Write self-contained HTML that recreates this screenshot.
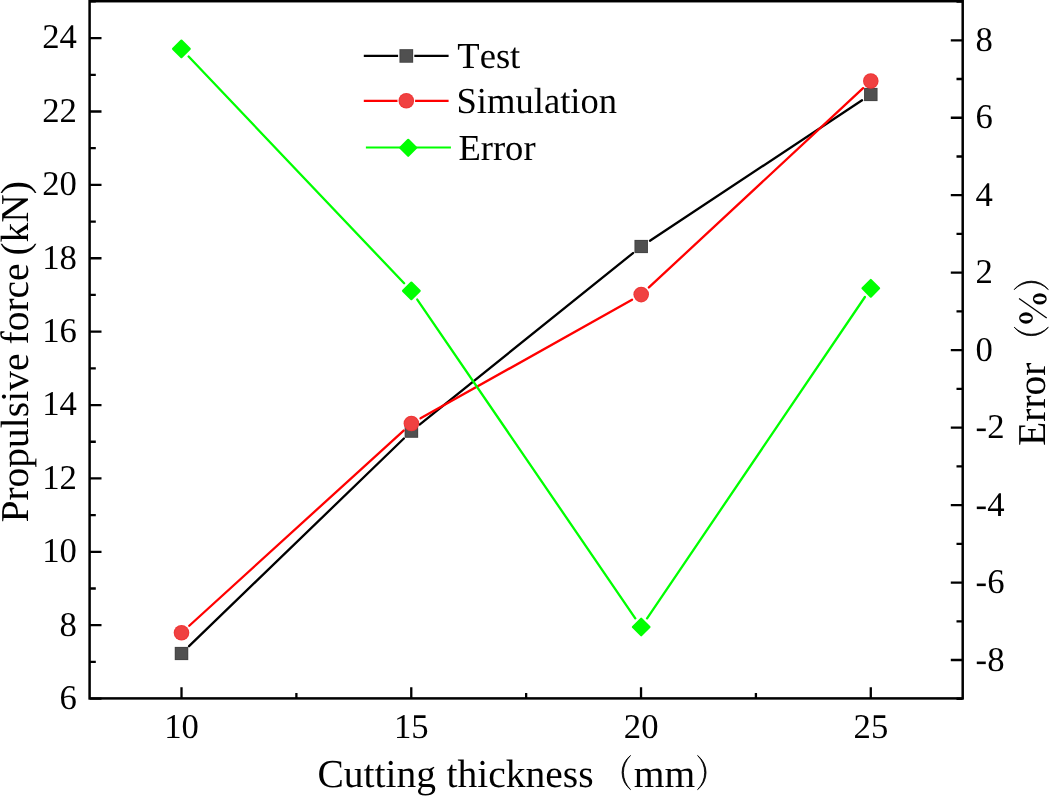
<!DOCTYPE html>
<html><head><meta charset="utf-8"><title>chart</title>
<style>html,body{margin:0;padding:0;background:#fff;overflow:hidden}svg{display:block;text-rendering:geometricPrecision;font-kerning:none;will-change:transform;transform:translateZ(0)}</style></head>
<body>
<svg width="1049" height="796" viewBox="0 0 1049 796">
<path d="M189.05 646.2L403.85 438.5M419.58 424.62L633.02 253.08M649.96 240.7L862.04 100.3" stroke="#000" stroke-width="2.3" fill="none" stroke-linecap="round"/>
<rect x="174.75" y="646.9" width="13.5" height="13.2" fill="#454545"/><rect x="175.75" y="647.9" width="11.5" height="11.2" fill="#505050"/>
<rect x="404.65" y="424.6" width="13.5" height="13.2" fill="#454545"/><rect x="405.65" y="425.6" width="11.5" height="11.2" fill="#505050"/>
<rect x="634.45" y="239.9" width="13.5" height="13.2" fill="#454545"/><rect x="635.45" y="240.9" width="11.5" height="11.2" fill="#505050"/>
<rect x="864.05" y="87.9" width="13.5" height="13.2" fill="#454545"/><rect x="865.05" y="88.9" width="11.5" height="11.2" fill="#505050"/>
<path d="M189.26 625.73L403.64 430.57M420.56 418.36L632.04 299.74M648.89 287.45L863.11 88.15" stroke="#ff0000" stroke-width="2.3" fill="none" stroke-linecap="round"/>
<circle cx="181.5" cy="632.8" r="7.8" fill="#ee3636"/><circle cx="181.5" cy="632.8" r="6.8" fill="#f04141"/>
<circle cx="411.4" cy="423.5" r="7.8" fill="#ee3636"/><circle cx="411.4" cy="423.5" r="6.8" fill="#f04141"/>
<circle cx="641.2" cy="294.6" r="7.8" fill="#ee3636"/><circle cx="641.2" cy="294.6" r="6.8" fill="#f04141"/>
<circle cx="870.8" cy="81" r="7.8" fill="#ee3636"/><circle cx="870.8" cy="81" r="6.8" fill="#f04141"/>
<path d="M188.63 56.51L404.12 283.29M417.28 299.57L635.27 618.33M647.09 618.31L864.91 296.99" stroke="#00ff00" stroke-width="2.3" fill="none" stroke-linecap="round"/>
<path d="M181.4 40.6L189.7 48.9L181.4 57.2L173.1 48.9Z" fill="#00ff00" stroke="#00ff00" stroke-width="2.2" stroke-linejoin="round"/>
<path d="M411.35 282.6L419.65 290.9L411.35 299.2L403.05 290.9Z" fill="#00ff00" stroke="#00ff00" stroke-width="2.2" stroke-linejoin="round"/>
<path d="M641.2 618.7L649.5 627L641.2 635.3L632.9 627Z" fill="#00ff00" stroke="#00ff00" stroke-width="2.2" stroke-linejoin="round"/>
<path d="M870.8 280L879.1 288.3L870.8 296.6L862.5 288.3Z" fill="#00ff00" stroke="#00ff00" stroke-width="2.2" stroke-linejoin="round"/>
<rect x="89.6" y="1.2" width="873.1" height="697.2" fill="none" stroke="#000" stroke-width="2.5"/>
<path d="M89.6 698.6h11.9M89.6 625.21h11.9M89.6 551.82h11.9M89.6 478.43h11.9M89.6 405.04h11.9M89.6 331.65h11.9M89.6 258.26h11.9M89.6 184.87h11.9M89.6 111.48h11.9M89.6 38.09h11.9M89.6 661.91h6.2M89.6 588.52h6.2M89.6 515.13h6.2M89.6 441.74h6.2M89.6 368.35h6.2M89.6 294.96h6.2M89.6 221.57h6.2M89.6 148.18h6.2M89.6 74.79h6.2M89.6 1.4h6.2M962.7 660.02h-11.9M962.7 582.55h-11.9M962.7 505.08h-11.9M962.7 427.62h-11.9M962.7 350.15h-11.9M962.7 272.68h-11.9M962.7 195.22h-11.9M962.7 117.75h-11.9M962.7 40.28h-11.9M962.7 698.75h-6.2M962.7 621.28h-6.2M962.7 543.82h-6.2M962.7 466.35h-6.2M962.7 388.88h-6.2M962.7 311.42h-6.2M962.7 233.95h-6.2M962.7 156.48h-6.2M962.7 79.02h-6.2M962.7 1.55h-6.2M181.51 698.4v-11.2M411.27 698.4v-11.2M641.03 698.4v-11.2M870.79 698.4v-11.2M296.39 698.4v-5.5M526.15 698.4v-5.5M755.91 698.4v-5.5" stroke="#000" stroke-width="2.3" fill="none"/>
<g font-family="'Liberation Serif', serif" font-size="34.7" fill="#000">
<text x="76.9" y="708.9" text-anchor="end">6</text>
<text x="76.9" y="635.51" text-anchor="end">8</text>
<text x="76.9" y="562.12" text-anchor="end">10</text>
<text x="76.9" y="488.73" text-anchor="end">12</text>
<text x="76.9" y="415.34" text-anchor="end">14</text>
<text x="76.9" y="341.95" text-anchor="end">16</text>
<text x="76.9" y="268.56" text-anchor="end">18</text>
<text x="76.9" y="195.17" text-anchor="end">20</text>
<text x="76.9" y="121.78" text-anchor="end">22</text>
<text x="76.9" y="48.39" text-anchor="end">24</text>
<text x="975.6" y="670.62">-8</text>
<text x="975.6" y="593.15">-6</text>
<text x="975.6" y="515.68">-4</text>
<text x="975.6" y="438.22">-2</text>
<text x="975.6" y="360.75">0</text>
<text x="975.6" y="283.28">2</text>
<text x="975.6" y="205.82">4</text>
<text x="975.6" y="128.35">6</text>
<text x="975.6" y="50.88">8</text>
<text x="181.61" y="737.8" text-anchor="middle">10</text>
<text x="411.37" y="737.8" text-anchor="middle">15</text>
<text x="641.13" y="737.8" text-anchor="middle">20</text>
<text x="870.89" y="737.8" text-anchor="middle">25</text>
</g>
<path d="M363.8 55.9H448.6" stroke="#000" stroke-width="2.1"/>
<rect x="398.1" y="48.1" width="16.2" height="15.7" fill="#fff"/>
<rect x="399.45" y="49.15" width="13.7" height="13.6" fill="#454545"/><rect x="400.45" y="50.15" width="11.7" height="11.6" fill="#505050"/>
<path d="M363.8 100.9H448.6" stroke="#ff0000" stroke-width="2.1"/>
<circle cx="406.3" cy="100.8" r="8.9" fill="#fff"/>
<circle cx="406.3" cy="100.8" r="7.8" fill="#ee3636"/><circle cx="406.3" cy="100.8" r="6.8" fill="#f04141"/>
<path d="M365.9 147.5H450.9" stroke="#00ff00" stroke-width="2.1"/>
<path d="M408.2 139.8L416.2 147.8L408.2 155.8L400.2 147.8Z" fill="#00ff00" stroke="#00ff00" stroke-width="2.2" stroke-linejoin="round"/>
<g font-family="'Liberation Serif', serif" font-size="36.6" fill="#000">
<text x="457.3" y="67.8">Test</text><text x="456.5" y="113.3">Simulation</text><text x="458.4" y="160.0">Error</text>
</g>
<g font-family="'Liberation Serif', serif" font-size="39.5" fill="#000">
<text x="317.4" y="786.6">Cutting</text>
<text x="446.6" y="786.6">thickness</text>
<text x="633.7" y="786.6">mm</text>
<text transform="translate(28.3 522.5) rotate(-90)">Propulsive</text>
<text transform="translate(28.3 344.5) rotate(-90)">force</text>
<text transform="translate(28.3 255.6) rotate(-90)">(kN)</text>
<text transform="translate(1044.8 445.9) rotate(-90)">Error</text>
</g>
<g fill="#000" stroke="#000" stroke-width="0.85" stroke-linejoin="round">
<path d="M630.5 755.5A21.5 21.5 0 0 0 630.5 789.6A24.0 24.0 0 0 1 630.5 755.5Z"/>
<path d="M697.6 755.5A21.5 21.5 0 0 1 697.6 789.6A24.0 24.0 0 0 0 697.6 755.5Z"/>
<path d="M1014.2 327.2A21.5 21.5 0 0 0 1048.3 327.2A24.0 24.0 0 0 1 1014.2 327.2Z"/>
<path d="M1014.2 289.6A21.5 21.5 0 0 1 1048.3 289.6A24.0 24.0 0 0 0 1014.2 289.6Z"/>
</g>
<path d="M1019.05 298.5L1046.7 318.0" stroke="#000" stroke-width="1.3" fill="none"/>
<path fill-rule="evenodd" fill="#000" d="M1032.9 298.9a6.9 5.7 0 1 0 13.8 0a6.9 5.7 0 1 0 -13.8 0ZM1034.15 298.9a5.65 2.5 0 1 0 11.3 0a5.65 2.5 0 1 0 -11.3 0Z"/>
<path fill-rule="evenodd" fill="#000" d="M1019.1 318a6.9 5.7 0 1 0 13.8 0a6.9 5.7 0 1 0 -13.8 0ZM1020.35 318a5.65 2.5 0 1 0 11.3 0a5.65 2.5 0 1 0 -11.3 0Z"/>
</svg>
</body></html>
